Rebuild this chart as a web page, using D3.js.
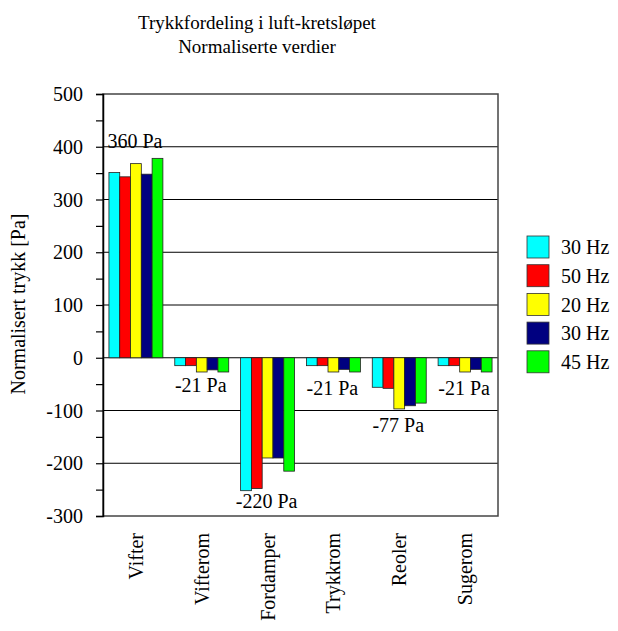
<!DOCTYPE html>
<html>
<head>
<meta charset="utf-8">
<script src="https://cdn.jsdelivr.net/npm/d3@7"></script>
<style>
  body { margin: 0; background: #fff; }
  svg { display: block; }
</style>
</head>
<body>
<svg width="618" height="631"></svg>
<script>
// categories and series
const categories = ["Vifter", "Vifterom", "Fordamper", "Trykkrom", "Reoler", "Sugerom"];
const seriesNames = ["30 Hz", "50 Hz", "20 Hz", "30 Hz", "45 Hz"];
const seriesColors = ["#00ffff", "#ff0000", "#ffff00", "#000080", "#00ff00"];

// values per series, one per category
const hz30a = [351, -15, -252, -15, -56, -15];
const hz50  = [343, -15, -248, -15, -58, -15];
const hz20  = [368, -27, -190, -27, -97, -27];
const hz30b = [348, -23, -190, -22, -91, -22];
const hz45  = [378, -27, -215, -27, -86, -27];
const seriesValues = [hz30a, hz50, hz20, hz30b, hz45];

// annotations for each category
const noteTexts = ["360 Pa", "-21 Pa", "-220 Pa", "-21 Pa", "-77 Pa", "-21 Pa"];
const noteAt = [398, -65, -285, -70, -140, -70];

const yTicks = [-300, -200, -100, 0, 100, 200, 300, 400, 500];

const serif = "Liberation Serif";
const plot = {left: 103, right: 498, top: 94, bottom: 516};

let svg = d3.select("svg")
  .attr("font-family", serif)
  .attr("font-size", 20);

let x0 = d3.scaleBand()
  .domain(categories)
  .range([plot.left, plot.right]);

let x1 = d3.scaleBand()
  .domain(d3.range(seriesNames.length))
  .range([0, x0.bandwidth()])
  .paddingOuter(0.55);

let y = d3.scaleLinear()
  .domain([-300, 500])
  .range([plot.bottom, plot.top]);

// title
svg.append("text")
  .attr("x", 257).attr("y", 29)
  .attr("text-anchor", "middle")
  .attr("font-size", 19)
  .text("Trykkfordeling i luft-kretsløpet");
svg.append("text")
  .attr("x", 257).attr("y", 53)
  .attr("text-anchor", "middle")
  .attr("font-size", 19)
  .text("Normaliserte verdier");

// grid lines
svg.append("g")
  .selectAll("line")
  .data(yTicks.filter(d => d > -300 && d < 500))
  .join("line")
    .attr("x1", plot.left).attr("x2", plot.right)
    .attr("y1", d => y(d)).attr("y2", d => y(d))
    .attr("stroke", "#000")
    .attr("stroke-width", 1);

// bars
let groups = svg.append("g")
  .selectAll("g")
  .data(categories)
  .join("g")
    .attr("transform", d => `translate(${x0(d)},0)`);

groups.selectAll("rect")
  .data((c, ci) => seriesValues.map((s, si) => ({si: si, v: s[ci]})))
  .join("rect")
    .attr("x", d => x1(d.si))
    .attr("width", x1.bandwidth())
    .attr("y", d => y(Math.max(0, d.v)))
    .attr("height", d => Math.abs(y(d.v) - y(0)))
    .attr("fill", d => seriesColors[d.si])
    .attr("stroke", "#222")
    .attr("stroke-width", 0.8);

// frame
svg.append("rect")
  .attr("x", plot.left).attr("y", plot.top)
  .attr("width", plot.right - plot.left)
  .attr("height", plot.bottom - plot.top)
  .attr("fill", "none")
  .attr("stroke", "#444")
  .attr("stroke-width", 1.5);

// y axis, minor ticks every 50
svg.append("g")
  .attr("transform", `translate(${plot.left},0)`)
  .call(d3.axisLeft(y).tickValues(d3.range(-300, 501, 50)).tickSize(7).tickFormat(""))
  .call(g => g.select(".domain").attr("stroke", "#000").attr("stroke-width", 1.5))
  .call(g => g.selectAll(".tick line").attr("stroke", "#000").attr("stroke-width", 1.2));

// tick labels drawn by hand so the axis group's sans-serif default stays out
svg.append("g")
  .selectAll("text")
  .data(yTicks)
  .join("text")
    .attr("x", plot.left - 20)
    .attr("y", d => y(d))
    .attr("dy", "0.36em")
    .attr("text-anchor", "end")
    .text(d => d);

// y axis title
svg.append("text")
  .attr("transform", "rotate(-90)")
  .attr("x", -(plot.top + plot.bottom) / 2 + 1)
  .attr("y", 25)
  .attr("text-anchor", "middle")
  .text("Normalisert trykk [Pa]");

// x category labels, rotated
svg.append("g")
  .selectAll("text")
  .data(categories)
  .join("text")
    .attr("transform", d => `translate(${x0(d) + x0.bandwidth() / 2},${plot.bottom + 17}) rotate(-90)`)
    .attr("dy", "0.35em")
    .attr("text-anchor", "end")
    .text(d => d);

// value notes
svg.append("g")
  .selectAll("text")
  .data(categories)
  .join("text")
    .attr("x", (d, i) => x0(d) + x0.bandwidth() / 2 - 1)
    .attr("y", (d, i) => y(noteAt[i]))
    .attr("text-anchor", "middle")
    .text((d, i) => noteTexts[i]);

// legend
let legend = svg.append("g")
  .attr("transform", "translate(527,236)");

let items = legend.selectAll("g")
  .data(seriesNames)
  .join("g")
    .attr("transform", (d, i) => `translate(0,${i * 28.7})`);

items.append("rect")
  .attr("width", 22).attr("height", 22)
  .attr("fill", (d, i) => seriesColors[i])
  .attr("stroke", "#333")
  .attr("stroke-width", 0.8);

items.append("text")
  .attr("x", 34).attr("y", 11)
  .attr("dy", "0.36em")
  .text(d => d);
</script>
</body>
</html>
